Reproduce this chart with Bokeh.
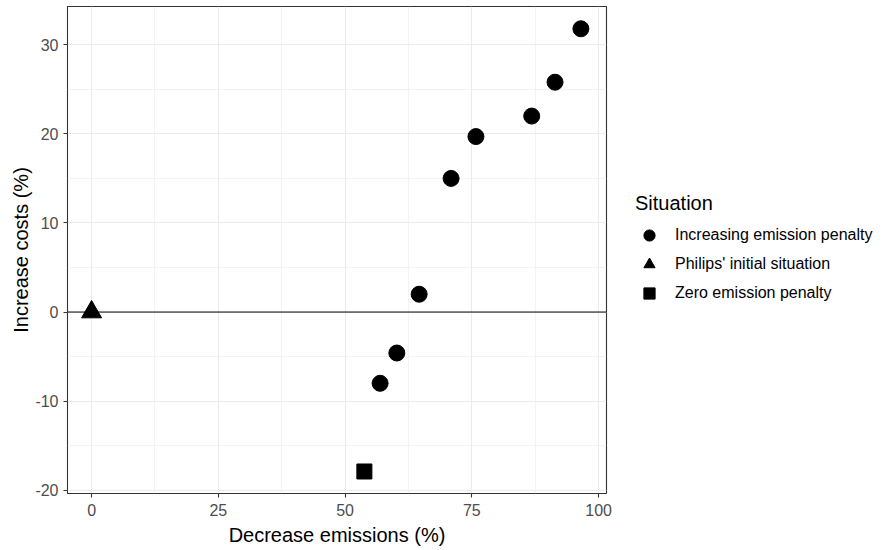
from bokeh.plotting import figure
from bokeh.models import (Legend, LegendItem, Span, FixedTicker, Range1d)
from bokeh.embed import file_html
from bokeh.resources import INLINE

# ---- data ----
inc_x = [56.9, 60.2, 64.6, 70.9, 75.8, 86.8, 91.4, 96.5]
inc_y = [-8.0, -4.6, 2.0, 15.0, 19.7, 22.0, 25.8, 31.8]
init_x = [0.0]
init_y = [0.0]
zero_x = [53.8]
zero_y = [-17.9]

labels = ["Increasing emission penalty", "Philips' initial situation", "Zero emission penalty"]
x_ticks = [0, 25, 50, 75, 100]
x_minor = [12.5, 37.5, 62.5, 87.5]
y_ticks = [-20, -10, 0, 10, 20, 30]
y_minor = [-15, -5, 5, 15, 25]

FONT = "Liberation Sans"

p = figure(frame_width=539, frame_height=487, min_border_left=67, min_border_right=278,
           min_border_top=6, min_border_bottom=56,
           x_range=Range1d(-4.75, 101.55), y_range=Range1d(-20.37, 34.3),
           output_backend="svg", toolbar_location=None)

p.background_fill_color = "white"
p.border_fill_color = "white"
p.outline_line_color = "#333333"
p.outline_line_width = 1.1

for ax, maj, mnr in ((p.xaxis[0], x_ticks, x_minor), (p.yaxis[0], y_ticks, y_minor)):
    ax.ticker = FixedTicker(ticks=maj, minor_ticks=mnr)
    ax.major_label_overrides = {t: str(t) for t in maj}
    ax.axis_line_color = None
    ax.major_tick_line_color = "#333333"
    ax.major_tick_line_width = 1.1
    ax.major_tick_out = 4
    ax.major_tick_in = 0
    ax.minor_tick_line_color = None
    ax.major_label_text_font = FONT
    ax.major_label_text_font_size = "16px"
    ax.major_label_text_color = "#4D4D4D"
    ax.axis_label_text_font = FONT
    ax.axis_label_text_font_size = "20px"
    ax.axis_label_text_font_style = "normal"
    ax.axis_label_text_color = "black"

p.xaxis.axis_label = "Decrease emissions (%)"
p.yaxis.axis_label = "Increase costs (%)"
p.xaxis.major_label_standoff = 6
p.xaxis.axis_label_standoff = 5
p.yaxis.major_label_standoff = 5
p.yaxis.axis_label_standoff = 0

for g in (p.xgrid[0], p.ygrid[0]):
    g.grid_line_color = "#EBEBEB"
    g.grid_line_width = 1.1
    g.minor_grid_line_color = "#EBEBEB"
    g.minor_grid_line_width = 0.6

p.add_layout(Span(location=0, dimension="width", line_color="black", line_width=1))

r1 = p.scatter(inc_x, inc_y, marker="circle", size=16, color="black")
r2 = p.scatter(init_x, init_y, marker="triangle", size=20, color="black")
r3 = p.scatter(zero_x, zero_y, marker="square", size=15, color="black")

legend = Legend(items=[LegendItem(label=labels[0], renderers=[r1]),
                       LegendItem(label=labels[1], renderers=[r2]),
                       LegendItem(label=labels[2], renderers=[r3])],
                location=(29, 186))
legend.title = "Situation"
legend.title_text_font = FONT
legend.title_text_font_size = "20px"
legend.title_text_font_style = "normal"
legend.title_text_color = "black"
legend.title_standoff = 6
legend.label_text_font = FONT
legend.label_text_font_size = "16px"
legend.label_text_color = "black"
legend.glyph_width = 28
legend.glyph_height = 28
legend.label_standoff = 12
legend.spacing = 1
legend.padding = 0
legend.margin = 0
legend.border_line_color = None
legend.background_fill_alpha = 0
p.add_layout(legend, "right")

open("out.html", "w").write(file_html(p, INLINE))
